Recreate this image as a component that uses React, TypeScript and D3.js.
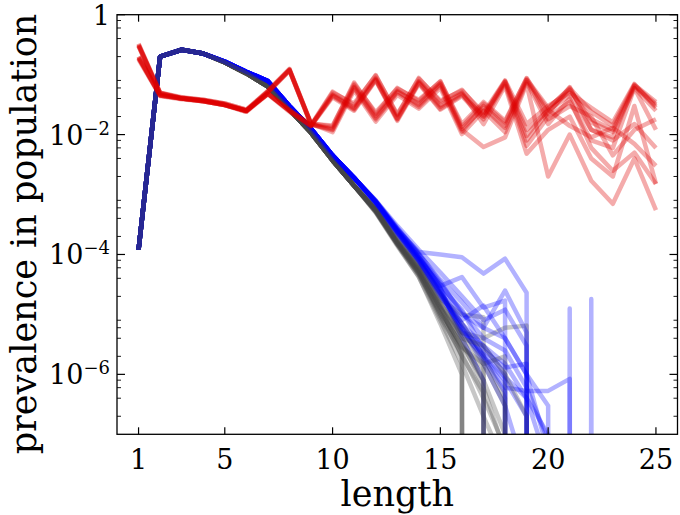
import React from 'react';
import * as d3 from 'd3';

// ---------- data ----------
const LENGTHS = [1, 2, 3, 4, 5, 6, 7, 8, 9, 10, 11, 12, 13, 14, 15, 16, 17, 18, 19, 20, 21, 22, 23, 24, 25];
const X_TICKS = [1, 5, 10, 15, 20, 25];
const Y_TICKS = [1, 1e-2, 1e-4, 1e-6];
const Y_TICK_EXP = ['0', '−2', '−4', '−6'];
const MINOR_SUBS = [2, 4, 6, 8];
const MINOR_DECADES = [-7, -6, -5, -4, -3, -2, -1];

// shared start of the blue / grey runs, lengths 1..11
const BLUE_HEAD = [1.2e-4, 0.2, 0.26, 0.225, 0.165, 0.112, 0.078, 0.03, 0.0126, 0.0045, 0.0019];
const GRAY_HEAD = [1.2e-4, 0.2, 0.26, 0.225, 0.16, 0.105, 0.063, 0.026, 0.0107, 0.0037, 0.0014];

// tails, lengths 12..25 (0 = absent)
const BLUE_TAILS = [
  [7.8e-4, 2.6e-4, 1.1e-4, 1.0e-4, 9e-5, 4.8e-5, 8.5e-5, 2.3e-5, 0, 0, 0, 0, 0, 0],
  [7.5e-4, 2.4e-4, 9e-5, 3e-5, 4.2e-5, 1.3e-5, 1.7e-5, 0, 0, 0, 0, 0, 0, 0],
  [7.2e-4, 2.3e-4, 8e-5, 2.2e-5, 6e-6, 1.5e-6, 3e-7, 2e-8, 0, 0, 0, 0, 0, 0],
  [7.6e-4, 2.5e-4, 8.5e-5, 2.6e-5, 5e-6, 2e-6, 6e-7, 5.3e-7, 5.3e-7, 8.4e-7, 0, 0, 0, 0],
  [7.4e-4, 2.4e-4, 8e-5, 2.4e-5, 5e-6, 3e-6, 1e-6, 0, 0, 1.25e-5, 0, 0, 0, 0],
  [7.7e-4, 2.6e-4, 9.5e-5, 2.8e-5, 4e-6, 8e-7, 0, 0, 0, 0, 1.8e-5, 0, 0, 0],
  [8e-4, 3e-4, 1.2e-4, 5e-5, 2e-5, 8e-6, 1.2e-5, 3e-6, 0, 0, 0, 0, 0, 0],
  [7e-4, 2.2e-4, 7.5e-5, 2e-5, 7e-6, 3e-6, 1.5e-6, 4e-7, 3e-8, 0, 0, 0, 0, 0],
  [7.9e-4, 2.8e-4, 1.05e-4, 3.5e-5, 1e-5, 6e-6, 4e-6, 1e-6, 5e-8, 0, 0, 0, 0, 0],
  [7.3e-4, 2.3e-4, 7.8e-5, 2.1e-5, 5.5e-6, 1.8e-6, 5e-7, 0, 0, 0, 0, 0, 0, 0],
  [7.6e-4, 2.5e-4, 8.8e-5, 3e-5, 1.2e-5, 2.5e-6, 1.3e-6, 1.5e-6, 0, 0, 0, 0, 0, 0],
  [7.5e-4, 2.5e-4, 9e-5, 2.7e-5, 7e-6, 2e-6, 8e-7, 2e-7, 0, 0, 0, 0, 0, 0],
  [7.7e-4, 2.7e-4, 1.0e-4, 3.8e-5, 1.6e-5, 6e-6, 2.5e-5, 5e-6, 0, 0, 0, 0, 0, 0],
  [7.4e-4, 2.4e-4, 8.2e-5, 2.3e-5, 8e-6, 1.4e-5, 4e-6, 1e-6, 3e-7, 0, 0, 0, 0, 0],
  [7.8e-4, 2.7e-4, 1.0e-4, 3.2e-5, 1.1e-5, 4e-6, 2.5e-6, 6e-7, 8e-8, 0, 0, 0, 0, 0],
  [7.2e-4, 2.3e-4, 7.9e-5, 2.3e-5, 6e-6, 2.2e-6, 9e-7, 4e-7, 1e-7, 0, 0, 0, 0, 0],
];

const GRAY_TAILS = [
  [5.5e-4, 1.6e-4, 5e-5, 1e-5, 2.5e-6, 0, 0, 0, 0, 0, 0, 0, 0, 0],
  [5.6e-4, 1.7e-4, 6e-5, 1.8e-5, 1e-5, 9e-6, 0, 0, 0, 0, 0, 0, 0, 0],
  [5.3e-4, 1.5e-4, 5e-5, 1.1e-5, 3e-6, 1.2e-6, 0, 0, 0, 0, 0, 0, 0, 0],
  [5.0e-4, 1.4e-4, 4.2e-5, 8e-6, 1.5e-6, 2e-7, 3e-8, 0, 0, 0, 0, 0, 0, 0],
  [5.8e-4, 1.8e-4, 6.5e-5, 1.6e-5, 4e-6, 8e-7, 1e-7, 0, 0, 0, 0, 0, 0, 0],
  [5.7e-4, 1.7e-4, 6e-5, 1.5e-5, 5e-6, 4e-6, 6e-6, 6.5e-6, 0, 0, 0, 0, 0, 0],
  [5.2e-4, 1.5e-4, 4.8e-5, 1.0e-5, 2e-6, 5e-7, 0, 0, 0, 0, 0, 0, 0, 0],
  [5.4e-4, 1.6e-4, 5.4e-5, 1.2e-5, 2.8e-6, 1.5e-6, 2e-6, 0, 0, 0, 0, 0, 0, 0],
  [5.9e-4, 1.9e-4, 7e-5, 2.2e-5, 7e-6, 2e-6, 4e-7, 0, 0, 0, 0, 0, 0, 0],
  [5.1e-4, 1.45e-4, 4.3e-5, 7e-6, 1e-6, 0, 0, 0, 0, 0, 0, 0, 0, 0],
  [5.5e-4, 1.55e-4, 5.2e-5, 1.3e-5, 3.5e-6, 6e-7, 5e-8, 0, 0, 0, 0, 0, 0, 0],
  [5.4e-4, 1.6e-4, 5.6e-5, 1.4e-5, 2e-6, 0, 0, 0, 0, 0, 0, 0, 0, 0],
  [5.3e-4, 1.5e-4, 4.6e-5, 9e-6, 2.2e-6, 4e-7, 6e-8, 0, 0, 0, 0, 0, 0, 0],
  [5.6e-4, 1.65e-4, 5.8e-5, 1.5e-5, 4.5e-6, 1.5e-6, 3e-7, 0, 0, 0, 0, 0, 0, 0],
  [5.2e-4, 1.5e-4, 4.7e-5, 1.1e-5, 3e-6, 8e-7, 0, 0, 0, 0, 0, 0, 0, 0],
  [5.5e-4, 1.6e-4, 5.5e-5, 1.3e-5, 4e-6, 3e-6, 1e-6, 2e-7, 0, 0, 0, 0, 0, 0],
];

// red runs, lengths 1..25
const RED_RUNS = [
  [0.32, 0.05, 0.042, 0.038, 0.033, 0.026, 0.054, 0.125, 0.0155, 0.0135, 0.074, 0.022, 0.06, 0.036, 0.078, 0.0135, 0.033, 0.016, 0.088, 0.022, 0.062, 0.012, 0.009, 0.066, 0.032],
  [0.3, 0.048, 0.041, 0.037, 0.032, 0.025, 0.051, 0.118, 0.015, 0.0118, 0.06, 0.018, 0.05, 0.029, 0.066, 0.0112, 0.03, 0.014, 0.082, 0.018, 0.03, 0.02, 0.0045, 0.012, 0.018],
  [0.31, 0.049, 0.04, 0.037, 0.032, 0.025, 0.053, 0.12, 0.0148, 0.0128, 0.066, 0.0205, 0.054, 0.031, 0.07, 0.0125, 0.028, 0.013, 0.08, 0.026, 0.014, 0.009, 0.013, 0.007, 0.003],
  [0.33, 0.05, 0.041, 0.038, 0.033, 0.026, 0.052, 0.122, 0.0152, 0.011, 0.055, 0.0165, 0.046, 0.027, 0.06, 0.0102, 0.025, 0.011, 0.075, 0.015, 0.04, 0.006, 0.0025, 0.005, 0.0015],
  [0.3, 0.047, 0.04, 0.036, 0.031, 0.024, 0.05, 0.117, 0.0145, 0.0122, 0.062, 0.019, 0.052, 0.033, 0.072, 0.012, 0.0062, 0.009, 0.07, 0.002, 0.01, 0.0017, 0.0007, 0.004, 0.00055],
  [0.31, 0.049, 0.041, 0.037, 0.032, 0.025, 0.052, 0.12, 0.015, 0.0142, 0.07, 0.0235, 0.058, 0.038, 0.076, 0.015, 0.035, 0.017, 0.085, 0.028, 0.058, 0.016, 0.011, 0.06, 0.025],
  [0.19, 0.045, 0.04, 0.036, 0.031, 0.025, 0.048, 0.026, 0.0145, 0.052, 0.031, 0.098, 0.021, 0.088, 0.035, 0.056, 0.021, 0.078, 0.0095, 0.027, 0.06, 0.024, 0.014, 0.068, 0.035],
  [0.2, 0.046, 0.04, 0.037, 0.032, 0.025, 0.049, 0.025, 0.014, 0.045, 0.027, 0.084, 0.018, 0.075, 0.029, 0.048, 0.02, 0.074, 0.008, 0.024, 0.055, 0.018, 0.012, 0.065, 0.03],
  [0.18, 0.044, 0.039, 0.036, 0.031, 0.024, 0.047, 0.024, 0.0138, 0.042, 0.025, 0.08, 0.017, 0.07, 0.026, 0.044, 0.018, 0.07, 0.0065, 0.02, 0.035, 0.008, 0.006, 0.06, 0.012],
  [0.19, 0.045, 0.04, 0.036, 0.031, 0.025, 0.048, 0.025, 0.0142, 0.05, 0.033, 0.095, 0.022, 0.085, 0.037, 0.054, 0.023, 0.08, 0.015, 0.03, 0.05, 0.028, 0.016, 0.07, 0.028],
  [0.2, 0.046, 0.04, 0.037, 0.031, 0.025, 0.048, 0.025, 0.014, 0.047, 0.028, 0.088, 0.019, 0.078, 0.031, 0.05, 0.015, 0.065, 0.0048, 0.012, 0.02, 0.004, 0.002, 0.03, 0.0015],
  [0.19, 0.045, 0.04, 0.036, 0.031, 0.025, 0.048, 0.025, 0.0143, 0.044, 0.026, 0.082, 0.018, 0.073, 0.027, 0.046, 0.02, 0.076, 0.012, 0.025, 0.045, 0.012, 0.008, 0.015, 0.006],
];

// ---------- layout / style ----------
const W = 680;
const H = 515;
const PL = 117;
const PR = 677.5;
const PT = 14.7;
const PB = 434.3;
const FONT = '"DejaVu Serif", "Liberation Serif", serif';
const LW = 4.5;

export default function App() {
  const x = d3.scaleLinear().domain([0, 26]).range([PL, PR]);
  const y = d3.scaleLog().domain([1e-7, 1]).range([PB, PT]);
  const yv = (v: number) => y(v > 0 ? v : 1e-300);
  const line = d3
    .line<number>()
    .x((_, i) => x(LENGTHS[i]))
    .y((v) => yv(v));

  const blueRuns = BLUE_TAILS.map((t) => BLUE_HEAD.concat(t));
  const grayRuns = GRAY_TAILS.map((t) => GRAY_HEAD.concat(t));

  const minorTicks: number[] = [];
  MINOR_DECADES.forEach((d) => MINOR_SUBS.forEach((s) => minorTicks.push(s * Math.pow(10, d))));

  return (
    <svg
      width={W}
      height={H}
      style={{ position: 'absolute', left: 0, top: 0, background: '#fff' }}
      fontFamily={FONT}
    >
      <defs>
        <clipPath id="plotclip">
          <rect x={PL} y={PT} width={PR - PL} height={PB - PT} />
        </clipPath>
      </defs>
      <rect x={0} y={0} width={W} height={H} fill="#fff" />
      <g clipPath="url(#plotclip)" fill="none" strokeLinejoin="round" strokeLinecap="butt">
        {blueRuns.map((run, i) => (
          <g key={'bg' + i}>
            <path d={line(run) || ''} stroke="#0000ff" strokeOpacity={0.3} strokeWidth={LW} />
            <path d={line(grayRuns[i]) || ''} stroke="#444444" strokeOpacity={0.3} strokeWidth={LW} />
          </g>
        ))}
        {RED_RUNS.map((run, i) => (
          <path key={'r' + i} d={line(run) || ''} stroke="#dd0000" strokeOpacity={0.33} strokeWidth={LW} />
        ))}
      </g>
      {/* frame */}
      <rect x={PL} y={PT} width={PR - PL} height={PB - PT} fill="none" stroke="#000" strokeWidth={1.3} />
      {/* x ticks */}
      {X_TICKS.map((t) => (
        <g key={'xt' + t}>
          <line x1={x(t)} x2={x(t)} y1={PB} y2={PB - 7} stroke="#000" strokeWidth={1.2} />
          <line x1={x(t)} x2={x(t)} y1={PT} y2={PT + 7} stroke="#000" strokeWidth={1.2} />
          <text x={x(t)} y={469} textAnchor="middle" fontSize={27} fill="#000">
            {t}
          </text>
        </g>
      ))}
      {/* y major ticks */}
      {Y_TICKS.map((t, i) => (
        <g key={'yt' + t}>
          <line x1={PL} x2={PL + 8} y1={y(t)} y2={y(t)} stroke="#000" strokeWidth={1.2} />
          <line x1={PR} x2={PR - 8} y1={y(t)} y2={y(t)} stroke="#000" strokeWidth={1.2} />
          {i === 0 ? (
            <text x={110} y={y(t) + 10} textAnchor="end" fontSize={27} fill="#000">
              1
            </text>
          ) : (
            <text x={110} y={y(t) + 10} textAnchor="end" fontSize={27} fill="#000">
              10
              <tspan fontSize={18} dy={-10}>
                {Y_TICK_EXP[i]}
              </tspan>
            </text>
          )}
        </g>
      ))}
      {/* y minor ticks */}
      {minorTicks.map((t, i) => (
        <g key={'ym' + i}>
          <line x1={PL} x2={PL + 4} y1={y(t)} y2={y(t)} stroke="#000" strokeWidth={0.9} />
          <line x1={PR} x2={PR - 4} y1={y(t)} y2={y(t)} stroke="#000" strokeWidth={0.9} />
        </g>
      ))}
      {/* axis labels */}
      <text x={(PL + PR) / 2} y={506} textAnchor="middle" fontSize={35} fill="#000">
        length
      </text>
      <text
        transform={`translate(36, ${234}) rotate(-90)`}
        textAnchor="middle"
        fontSize={35}
        fill="#000"
      >
        prevalence in population
      </text>
    </svg>
  );
}
